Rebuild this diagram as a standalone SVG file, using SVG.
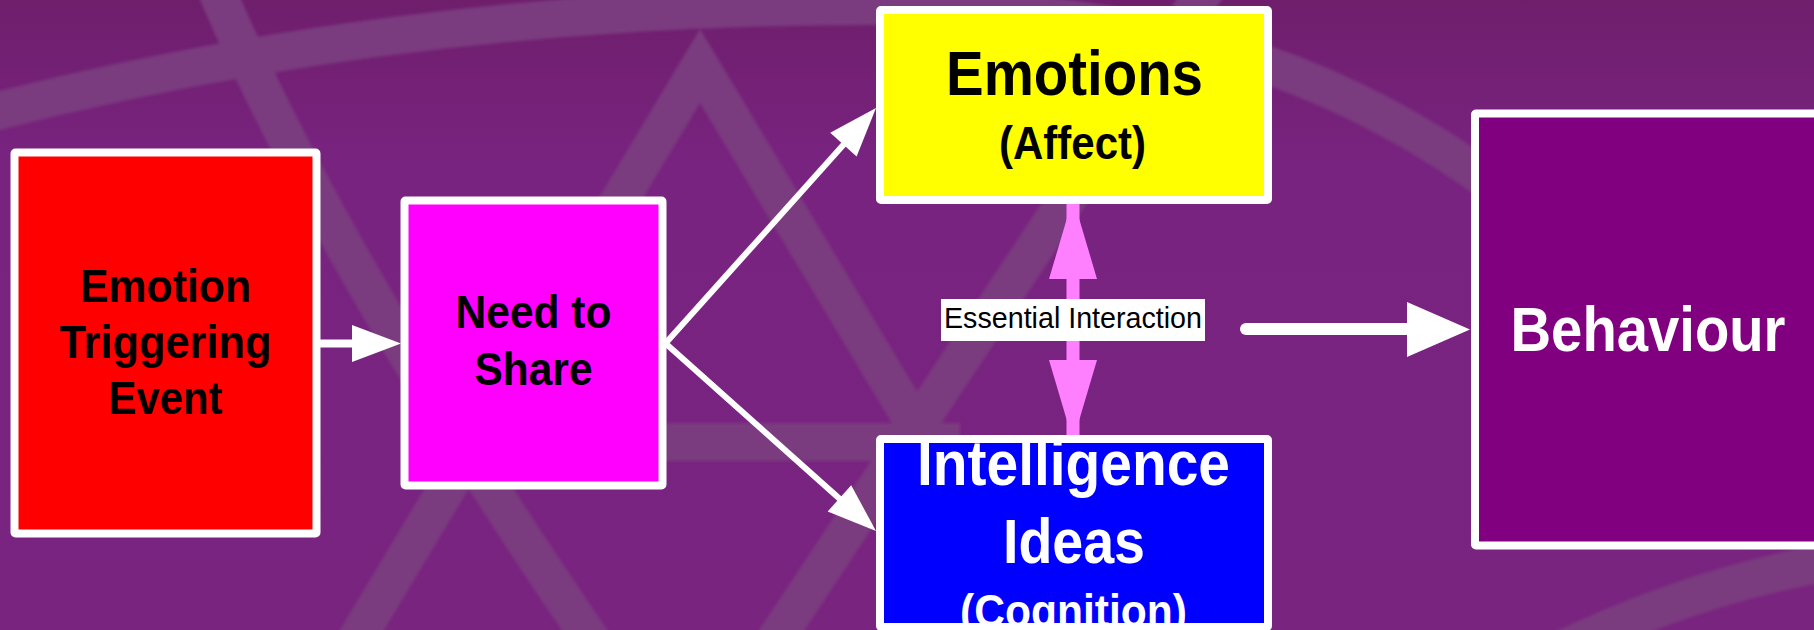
<svg xmlns="http://www.w3.org/2000/svg" width="1814" height="630" viewBox="0 0 1814 630">
  <defs>
    <linearGradient id="bgGrad" x1="0" y1="0" x2="0" y2="1">
      <stop offset="0" stop-color="#6f1e6c"/>
      <stop offset="0.25" stop-color="#78237f"/>
      <stop offset="1" stop-color="#79247f"/>
    </linearGradient>
    <filter id="soft" x="-5%" y="-5%" width="110%" height="110%">
      <feGaussianBlur stdDeviation="1.8"/>
    </filter>
    <style>
      .band { fill: none; stroke: #7a3b7f; stroke-width: 38; }
      .box { stroke: #ffffff; stroke-width: 8; stroke-linejoin: round; }
      .lbl { font-family: "Liberation Sans", Arial, sans-serif; font-weight: bold; text-anchor: middle; }
      .dark { fill: #000000; }
      .light { fill: #ffffff; }
      .wire { stroke: #ffffff; fill: none; }
      .head { fill: #ffffff; }
      .pink { fill: #ff80ff; }
    </style>
  </defs>

  <!-- backdrop with faint globe wireframe -->
  <rect x="0" y="0" width="1814" height="630" fill="url(#bgGrad)"/>
  <g id="backdrop" filter="url(#soft)">
    <path class="band" stroke-width="42" d="M -30 118 C 250 44 560 4 900 6 C 1160 12 1340 70 1500 190"/>
    <path class="band" d="M 1540 660 Q 1690 585 1840 560"/>
    <path class="band" d="M 212 -20 Q 330 260 605 660"/>
    <path class="band" stroke-linejoin="miter" d="M 344 660 L 700 66 L 1056 660"/>
    <path class="band" d="M 1212 -20 L 762 660"/>
    <path class="band" stroke-width="52" d="M 600 442 L 960 442"/>
  </g>

  <!-- connectors -->
  <g id="connectors">
    <line class="wire" x1="318" y1="343.5" x2="356" y2="343.5" stroke-width="8"/>
    <polygon class="head" points="352,325 401,343.5 352,362"/>

    <line class="wire" x1="664" y1="345" x2="845" y2="143" stroke-width="6"/>
    <polygon class="head" points="876,108 856.6,156.4 830.2,132.8"/>

    <line class="wire" x1="664" y1="342" x2="841" y2="500" stroke-width="6"/>
    <polygon class="head" points="876,531 827.6,511.6 851.2,485.2"/>

    <line x1="1073" y1="200" x2="1073" y2="438.5" stroke="#ff80ff" stroke-width="13" stroke-linecap="round"/>
    <polygon class="pink" points="1073,198 1097,279 1049,279"/>
    <polygon class="pink" points="1049,360 1097,360 1073,441"/>

    <line class="wire" x1="1246" y1="329" x2="1410" y2="329" stroke-width="12" stroke-linecap="round"/>
    <polygon class="head" points="1407,302 1470,329.5 1407,357"/>

    <g id="interaction-label">
      <rect x="941" y="299" width="264" height="42" fill="#ffffff"/>
      <text x="1073" y="328" font-family="Liberation Sans, Arial, sans-serif" font-size="30" text-anchor="middle" fill="#000000" textLength="258" lengthAdjust="spacingAndGlyphs">Essential Interaction</text>
    </g>
  </g>

  <!-- nodes -->
  <g id="node-trigger">
    <rect class="box" x="14.5" y="152.5" width="302" height="381" rx="1" fill="#ff0000" stroke-width="7"/>
    <text class="lbl dark" font-size="47" x="165.5" y="302" textLength="171" lengthAdjust="spacingAndGlyphs">Emotion</text>
    <text class="lbl dark" font-size="47" x="165.5" y="358" textLength="212" lengthAdjust="spacingAndGlyphs">Triggering</text>
    <text class="lbl dark" font-size="47" x="165.5" y="414" textLength="114" lengthAdjust="spacingAndGlyphs">Event</text>
  </g>

  <g id="node-share">
    <rect class="box" x="404.5" y="200.5" width="258" height="285" rx="1" fill="#ff00ff" stroke-width="7"/>
    <text class="lbl dark" font-size="47" x="533.5" y="328" textLength="156" lengthAdjust="spacingAndGlyphs">Need to</text>
    <text class="lbl dark" font-size="47" x="533.5" y="385" textLength="118" lengthAdjust="spacingAndGlyphs">Share</text>
  </g>

  <g id="node-emotions">
    <rect class="box" x="880" y="10" width="388" height="190" rx="1" fill="#ffff00"/>
    <text class="lbl dark" font-size="63" x="1074.5" y="95" textLength="257" lengthAdjust="spacingAndGlyphs">Emotions</text>
    <text class="lbl dark" font-size="46" x="1072.5" y="159" textLength="147" lengthAdjust="spacingAndGlyphs">(Affect)</text>
  </g>

  <g id="node-intelligence">
    <rect class="box" x="880" y="439" width="388" height="188" rx="1" fill="#0000ff"/>
    <text class="lbl light" font-size="63" x="1073.5" y="485" textLength="313" lengthAdjust="spacingAndGlyphs">Intelligence</text>
    <text class="lbl light" font-size="63" x="1074" y="563" textLength="142" lengthAdjust="spacingAndGlyphs">Ideas</text>
    <text class="lbl light" font-size="46" x="1073.5" y="627" textLength="227" lengthAdjust="spacingAndGlyphs">(Cognition)</text>
  </g>

  <g id="node-behaviour">
    <rect class="box" x="1475" y="113.5" width="370" height="432" rx="1" fill="#800080" stroke-width="10"/>
    <text class="lbl light" font-size="63" x="1648" y="351" textLength="275" lengthAdjust="spacingAndGlyphs">Behaviour</text>
  </g>
</svg>
